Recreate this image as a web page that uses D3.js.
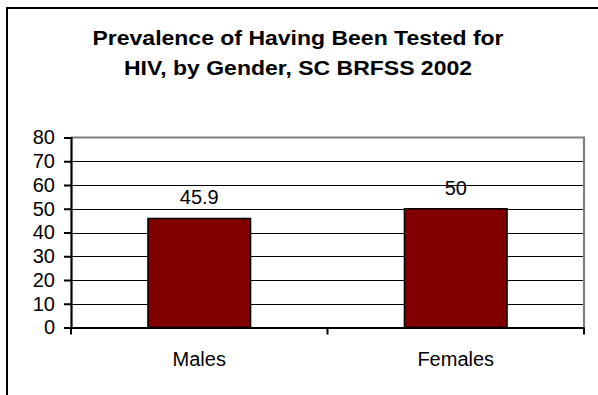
<!DOCTYPE html>
<html><head><meta charset="utf-8">
<script src="https://cdn.jsdelivr.net/npm/d3@7/dist/d3.min.js"></script>
<style>body{margin:0;background:#fff}svg{display:block}text{font-family:"Liberation Sans",Arial,sans-serif}</style>
</head><body>
<script>
const categories = ["Males", "Females"];
const values = [45.9, 50];
const valueLabels = ["45.9", "50"];
const yTicks = [0, 10, 20, 30, 40, 50, 60, 70, 80];
const titleLines = ["Prevalence of Having Been Tested for", "HIV, by Gender, SC BRFSS 2002"];

const W = 598, H = 395;
const svg = d3.select("body").append("svg").attr("width", W).attr("height", H);

// outer border (extends beyond right/bottom)
svg.append("rect").attr("x", 7).attr("y", 8).attr("width", 620).attr("height", 420)
  .attr("fill", "none").attr("stroke", "#000").attr("stroke-width", 2);

const pl = 71, pr = 584, pt = 137.5, pb = 327.5;
const x = d3.scaleBand().domain(categories).range([pl, pr]).paddingInner(0.6).paddingOuter(0.3);
const xb = d3.scaleBand().domain(categories).range([pl, pr]);
const y = d3.scaleLinear().domain([0, 80]).range([pb, pt]);

// title
const tg = svg.append("g");
titleLines.forEach((t, i) => {
  tg.append("text").attr("transform", `translate(298,${44.5 + i * 30.5}) scale(1.15,1)`)
    .attr("text-anchor", "middle").attr("font-weight", "bold").attr("font-size", 20).attr("fill", "#000").text(t);
});

// gridlines
svg.append("g").selectAll("line").data(yTicks.filter(d => d > 0 && d < 80)).join("line")
  .attr("x1", pl).attr("x2", pr).attr("y1", d => Math.round(y(d)) + 0.5).attr("y2", d => Math.round(y(d)) + 0.5)
  .attr("stroke", "#000").attr("stroke-width", 1);

// plot border top/right gray
svg.append("path").attr("d", `M${pl},${y(80)}H${pr}V${pb}`).attr("fill", "none")
  .attr("stroke", "#808080").attr("stroke-width", 2.2);

// bars
svg.append("g").selectAll("rect").data(values).join("rect")
  .attr("x", (d, i) => x(categories[i])).attr("width", x.bandwidth())
  .attr("y", d => y(d)).attr("height", d => pb - y(d))
  .attr("fill", "#800000").attr("stroke", "#000").attr("stroke-width", 1.5);

// y axis
const ya = d3.axisLeft(y).tickValues(yTicks).tickSize(7).tickPadding(9);
const yg = svg.append("g").attr("transform", `translate(${pl},0)`).call(ya);
yg.select(".domain").attr("stroke", "#000").attr("stroke-width", 2.2);
yg.selectAll(".tick line").attr("stroke", "#000").attr("stroke-width", 2);
yg.selectAll(".tick text").attr("font-size", 20).attr("fill", "#000").attr("font-family", "Liberation Sans, Arial, sans-serif");

// x axis
const xa = d3.axisBottom(xb).tickSize(0).tickPadding(24);
const xg = svg.append("g").attr("transform", `translate(0,${pb})`).call(xa);
xg.select(".domain").attr("stroke", "#000").attr("stroke-width", 2.2);
xg.selectAll(".tick text").attr("font-size", 20).attr("fill", "#000").attr("font-family", "Liberation Sans, Arial, sans-serif");
const bTicks = [pl, xb(categories[1]), pr];
xg.selectAll("line.bt").data(bTicks).join("line").attr("class", "bt")
  .attr("x1", d => d).attr("x2", d => d).attr("y1", 0).attr("y2", 7)
  .attr("stroke", "#000").attr("stroke-width", 2);

// value labels
svg.append("g").selectAll("text").data(values).join("text")
  .attr("x", (d, i) => x(categories[i]) + x.bandwidth() / 2).attr("y", d => y(d) - 14)
  .attr("text-anchor", "middle").attr("font-size", 20).attr("fill", "#000")
  .text((d, i) => valueLabels[i]);
</script>
</body></html>
